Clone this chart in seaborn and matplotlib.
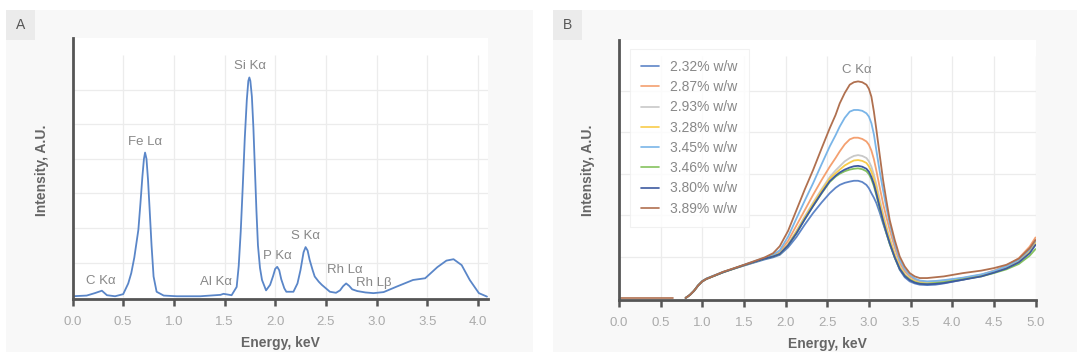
"""
XRF spectra: full spectrum (A) and C K-alpha region for several carbon contents (B).
"""
import numpy as np
import pandas as pd
import seaborn as sns
import matplotlib.pyplot as plt
from matplotlib.patches import Rectangle

sns.set_theme(style='white')
plt.rcParams['font.family'] = ['Liberation Sans', 'DejaVu Sans']

# ==================================== Data, panel A ==================================================
energy_a = [0.00, 0.14, 0.22, 0.29, 0.34, 0.42, 0.50, 0.55, 0.58, 0.61, 0.63, 0.65, 0.67, 0.69,
            0.705, 0.716, 0.73, 0.745, 0.76, 0.78, 0.80, 0.83, 0.90, 1.03, 1.26, 1.46, 1.49, 1.57,
            1.62, 1.64, 1.66, 1.68, 1.70, 1.72, 1.735, 1.745, 1.755, 1.77, 1.785, 1.80, 1.815,
            1.83, 1.85, 1.87, 1.91, 1.95, 1.98, 2.00, 2.02, 2.04, 2.06, 2.09, 2.11, 2.18, 2.22,
            2.25, 2.28, 2.30, 2.32, 2.34, 2.37, 2.39, 2.43, 2.46, 2.54, 2.60, 2.64, 2.67, 2.70,
            2.73, 2.76, 2.81, 2.89, 2.97, 3.07, 3.20, 3.36, 3.48, 3.60, 3.69, 3.76, 3.84, 3.92,
            4.01, 4.09]
intensity_a = [0.03, 0.05, 0.12, 0.19, 0.06, 0.03, 0.09, 0.40, 0.70, 1.15, 1.55, 1.95, 2.70, 3.50,
               4.00, 4.18, 4.00, 3.40, 2.60, 1.50, 0.60, 0.16, 0.05, 0.03, 0.03, 0.07, 0.10, 0.06,
               0.30, 0.90, 1.90, 3.20, 4.60, 5.70, 6.25, 6.35, 6.25, 5.80, 4.90, 3.70, 2.50,
               1.50, 0.85, 0.50, 0.20, 0.36, 0.62, 0.82, 0.88, 0.78, 0.52, 0.26, 0.16, 0.16, 0.40,
               0.79, 1.30, 1.45, 1.35, 1.08, 0.78, 0.60, 0.45, 0.36, 0.16, 0.13, 0.20, 0.32, 0.40,
               0.33, 0.23, 0.18, 0.14, 0.12, 0.15, 0.31, 0.50, 0.55, 0.87, 1.06, 1.10, 0.93, 0.50,
               0.12, 0.02]

peak_labels = ['C K\u03b1', 'Fe L\u03b1', 'Si K\u03b1', 'Al K\u03b1', 'P K\u03b1', 'S K\u03b1',
               'Rh L\u03b1', 'Rh L\u03b2']
peak_x = [0.28, 0.72, 1.75, 1.42, 2.02, 2.30, 2.69, 2.97]
peak_y = [0.47, 4.50, 6.68, 0.44, 1.19, 1.77, 0.79, 0.41]

# ==================================== Data, panel B ==================================================
energy_b = [0.80, 0.85, 0.90, 0.95, 1.00, 1.05, 1.10, 1.25, 1.50, 1.75,
            1.85, 1.93, 2.03, 2.13, 2.23, 2.33, 2.43, 2.53,
            2.60, 2.65, 2.71, 2.77, 2.82, 2.87, 2.92, 2.97,
            3.00, 3.03, 3.06, 3.09, 3.13, 3.17, 3.21, 3.25,
            3.31, 3.37, 3.43, 3.49, 3.55, 3.61,
            3.70, 3.80, 3.90, 4.13, 4.35, 4.50, 4.65, 4.80, 4.93, 5.00]
samples = ['2.32% w/w', '2.87% w/w', '2.93% w/w', '3.28% w/w',
           '3.45% w/w', '3.46% w/w', '3.80% w/w', '3.89% w/w']
c232 = [0.00, 0.07, 0.17, 0.31, 0.41, 0.47, 0.51, 0.63, 0.78, 0.93,
        0.98, 1.04, 1.22, 1.47, 1.77, 2.05, 2.30, 2.53,
        2.66, 2.73, 2.78, 2.81, 2.83, 2.83, 2.80, 2.73,
        2.65, 2.53, 2.42, 2.29, 2.06, 1.80, 1.56, 1.32,
        0.98, 0.68, 0.50, 0.40, 0.35, 0.32,
        0.31, 0.32, 0.35, 0.44, 0.54, 0.64, 0.76, 0.92, 1.12, 1.30]
c287 = [0.00, 0.07, 0.17, 0.30, 0.40, 0.46, 0.50, 0.62, 0.79, 0.96,
        1.03, 1.11, 1.38, 1.75, 2.12, 2.49, 2.84, 3.17,
        3.38, 3.54, 3.71, 3.83, 3.87, 3.87, 3.84, 3.78,
        3.70, 3.56, 3.35, 3.07, 2.67, 2.28, 1.95, 1.64,
        1.22, 0.84, 0.64, 0.52, 0.44, 0.40,
        0.39, 0.40, 0.42, 0.48, 0.56, 0.66, 0.78, 0.96, 1.24, 1.46]
c293 = [0.00, 0.07, 0.17, 0.30, 0.40, 0.46, 0.50, 0.62, 0.79, 0.96,
        1.01, 1.07, 1.30, 1.62, 1.97, 2.30, 2.62, 2.92,
        3.08, 3.18, 3.30, 3.38, 3.43, 3.45, 3.43, 3.38,
        3.30, 3.17, 2.98, 2.74, 2.38, 2.04, 1.73, 1.45,
        1.08, 0.76, 0.58, 0.47, 0.41, 0.37,
        0.36, 0.37, 0.39, 0.46, 0.54, 0.63, 0.73, 0.88, 1.14, 1.35]
c328 = [0.00, 0.07, 0.17, 0.30, 0.40, 0.46, 0.50, 0.62, 0.79, 0.96,
        1.01, 1.07, 1.29, 1.60, 1.94, 2.27, 2.58, 2.88,
        3.01, 3.10, 3.20, 3.27, 3.32, 3.33, 3.31, 3.26,
        3.18, 3.05, 2.87, 2.64, 2.29, 1.96, 1.67, 1.40,
        1.04, 0.74, 0.56, 0.46, 0.40, 0.36,
        0.35, 0.36, 0.38, 0.45, 0.53, 0.62, 0.72, 0.87, 1.12, 1.33]
c345 = [0.00, 0.07, 0.17, 0.30, 0.40, 0.46, 0.50, 0.62, 0.80, 0.97,
        1.05, 1.15, 1.48, 1.92, 2.35, 2.77, 3.22, 3.66,
        3.93, 4.14, 4.35, 4.50, 4.54, 4.54, 4.52, 4.46,
        4.38, 4.22, 3.95, 3.56, 3.05, 2.60, 2.18, 1.80,
        1.32, 0.92, 0.70, 0.56, 0.47, 0.42,
        0.40, 0.41, 0.43, 0.49, 0.57, 0.65, 0.76, 0.92, 1.17, 1.38]
c346 = [0.00, 0.07, 0.17, 0.30, 0.40, 0.46, 0.50, 0.62, 0.79, 0.95,
        1.00, 1.06, 1.27, 1.56, 1.90, 2.22, 2.52, 2.80,
        2.93, 3.00, 3.06, 3.10, 3.12, 3.13, 3.11, 3.06,
        2.99, 2.87, 2.70, 2.48, 2.16, 1.84, 1.56, 1.30,
        0.97, 0.70, 0.54, 0.44, 0.38, 0.35,
        0.34, 0.36, 0.38, 0.45, 0.52, 0.60, 0.69, 0.82, 1.02, 1.18]
c380 = [0.00, 0.07, 0.17, 0.30, 0.40, 0.46, 0.50, 0.62, 0.79, 0.95,
        1.00, 1.06, 1.27, 1.56, 1.90, 2.22, 2.53, 2.82,
        2.95, 3.03, 3.10, 3.15, 3.18, 3.19, 3.17, 3.12,
        3.05, 2.92, 2.75, 2.52, 2.19, 1.86, 1.58, 1.32,
        0.98, 0.70, 0.53, 0.43, 0.37, 0.34,
        0.33, 0.34, 0.36, 0.44, 0.52, 0.61, 0.71, 0.86, 1.08, 1.28]
c389 = [0.00, 0.07, 0.17, 0.30, 0.40, 0.46, 0.50, 0.63, 0.80, 0.98,
        1.08, 1.25, 1.62, 2.12, 2.62, 3.09, 3.60, 4.10,
        4.42, 4.70, 4.95, 5.15, 5.21, 5.23, 5.21, 5.15,
        5.05, 4.86, 4.50, 4.06, 3.45, 2.85, 2.35, 1.88,
        1.40, 1.00, 0.76, 0.60, 0.52, 0.48,
        0.48, 0.50, 0.52, 0.60, 0.66, 0.72, 0.80, 0.95, 1.20, 1.40]
flat_x = [0.00, 0.65]
flat_y = [0.01, 0.01]

colors_b = ['#5e85c7', '#f4a070', '#c8c8c8', '#f8cc4a', '#7ab5e8', '#85c25e', '#3d5aa0', '#b0704f']

df_b = pd.DataFrame({
    'energy': energy_b * len(samples),
    'intensity': c232 + c287 + c293 + c328 + c345 + c346 + c380 + c389,
    'sample': [s for s in samples for _ in energy_b],
})
df_a = pd.DataFrame({'energy': energy_a, 'intensity': intensity_a})

# ==================================== Figure layout ==================================================
W, H = 1080, 363
fig = plt.figure(figsize=(W / 100, H / 100), dpi=100)
fig.patch.set_facecolor('white')

# light panel backgrounds with the letter tags (kept behind the axes)
for x0, x1, tag in [(6, 533, 'A'), (553, 1077, 'B')]:
    fig.patches.append(Rectangle((x0 / W, 1 - 352 / H), (x1 - x0) / W, 342 / H,
                                 transform=fig.transFigure, facecolor='#f8f8f8',
                                 edgecolor='none', zorder=-2))
    fig.patches.append(Rectangle((x0 / W, 1 - 40 / H), 29 / W, 30 / H,
                                 transform=fig.transFigure, facecolor='#ebebeb',
                                 edgecolor='none', zorder=-1))
    fig.text((x0 + 14.5) / W, 1 - 25 / H, tag, ha='center', va='center',
             fontsize=10, color='#555555')

# y labels placed on the figure, next to each plot
for xl in [42, 588]:
    fig.text(xl / W, 1 - 170 / H, 'Intensity, A.U.', rotation=90, ha='center', va='center',
             fontsize=10, fontweight='bold', color='#666666')

ax_a = fig.add_axes([72.5 / W, 1 - 299.3 / H, (488 - 72.5) / W, (299.3 - 38) / H])
ax_b = fig.add_axes([619 / W, 1 - 300 / H, (1035.5 - 619) / W, (300 - 40) / H])


def style_axes(ax, xmax, xticks, ylim, grid_y, grid_top):
    ax.set_facecolor('white')
    ax.hlines(grid_y, 0, xmax, color='#ececec', linewidth=0.9, zorder=0)
    ax.vlines(xticks[1:], 0, grid_top, color='#ececec', linewidth=0.9, zorder=0)
    ax.set_xlim(0, xmax)
    ax.set_ylim(*ylim)
    ax.set_xticks(xticks)
    ax.set_xticklabels([f'{t:.1f}' for t in xticks])
    ax.set_yticks([])
    for side in ['top', 'right']:
        ax.spines[side].set_visible(False)
    for side in ['left', 'bottom']:
        ax.spines[side].set_color('#555555')
        ax.spines[side].set_linewidth(2.0)
    ax.tick_params(axis='x', direction='out', length=5, width=1.8, color='#555555',
                   labelsize=9.5, labelcolor='#aaaaaa', pad=7, bottom=True)


# ==================================== Panel A ========================================================
ticks_a = [0.0, 0.5, 1.0, 1.5, 2.0, 2.5, 3.0, 3.5, 4.0]
style_axes(ax_a, 4.1, ticks_a, (-0.058, 7.49), [1, 2, 3, 4, 5, 6], 7)
sns.lineplot(data=df_a, x='energy', y='intensity', ax=ax_a, color='#5a86c8',
             linewidth=1.3, sort=False)
for lab, px, py in zip(peak_labels, peak_x, peak_y):
    ax_a.text(px, py, lab, ha='center', va='center', fontsize=9.5, color='#888888')
ax_a.set_xlabel('Energy, keV', fontsize=10, fontweight='bold', color='#666666', labelpad=6)
ax_a.set_ylabel('')

# ==================================== Panel B ========================================================
ticks_b = [0.0, 0.5, 1.0, 1.5, 2.0, 2.5, 3.0, 3.5, 4.0, 4.5, 5.0]
style_axes(ax_b, 5.0, ticks_b, (-0.05, 6.23), [1, 2, 3, 4, 5], 5.85)
sns.lineplot(x=flat_x, y=flat_y, ax=ax_b, color=colors_b[-1], linewidth=1.2, legend=False)
sns.lineplot(data=df_b, x='energy', y='intensity', hue='sample', palette=colors_b,
             ax=ax_b, linewidth=1.3, errorbar=None)
ax_b.text(2.86, 5.5, 'C K\u03b1', ha='center', va='center', fontsize=9.5, color='#888888')
ax_b.set_xlabel('Energy, keV', fontsize=10, fontweight='bold', color='#666666', labelpad=6)
ax_b.set_ylabel('')

leg = ax_b.legend(loc='upper left', bbox_to_anchor=(0.026, 0.966), borderaxespad=0,
                  fontsize=10, labelcolor='#888888', handlelength=1.3, handletextpad=0.8,
                  labelspacing=0.45, borderpad=0.8, fancybox=False, frameon=True)
leg.get_frame().set_edgecolor('#eeeeee')
leg.get_frame().set_linewidth(0.8)
for line in leg.get_lines():
    line.set_linewidth(1.2)

fig.savefig('out.png', dpi=100)
